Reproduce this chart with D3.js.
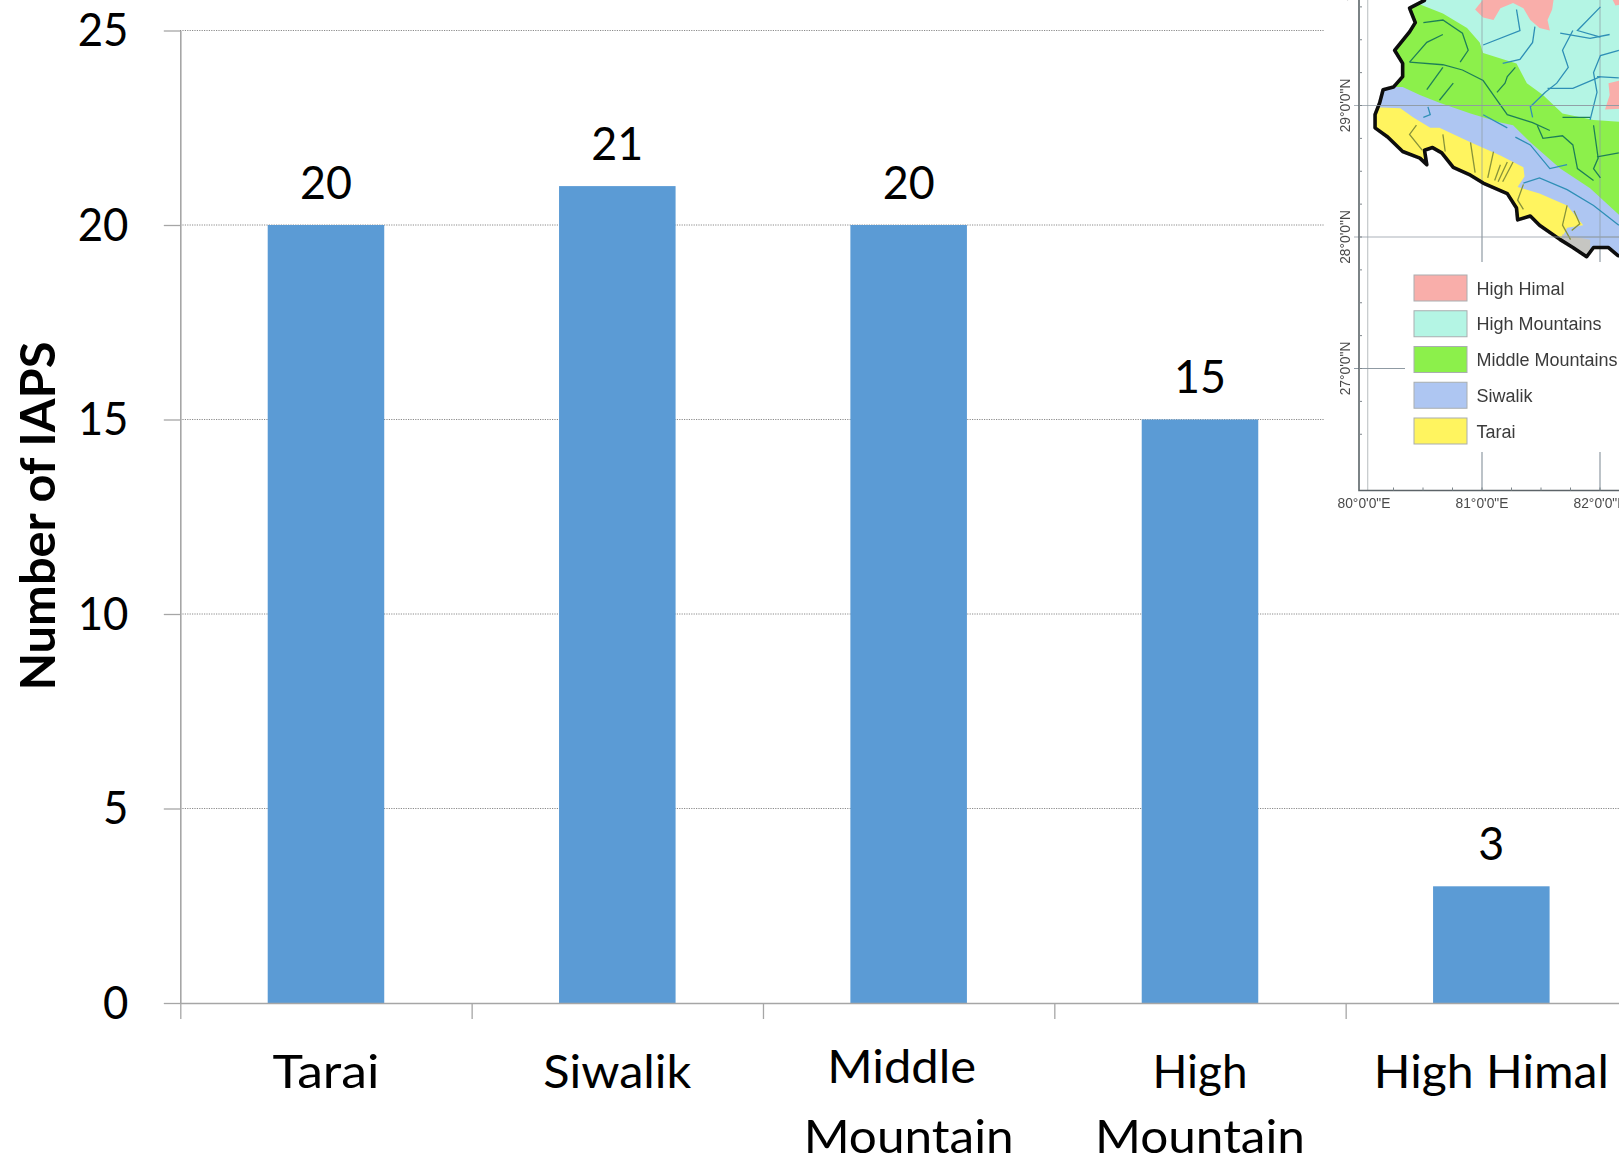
<!DOCTYPE html>
<html>
<head>
<meta charset="utf-8">
<style>
html, body { margin: 0; padding: 0; background: #fff; }
svg { display: block; }
text { fill: #000; }
</style>
<script src="https://cdn.jsdelivr.net/npm/d3@7/dist/d3.min.js"></script>
</head>
<body>
<svg id="chart" width="1619" height="1163"></svg>
<script>
// Invasive alien plant counts by physiographic zone
const categories = ["Tarai", "Siwalik", "Middle Mountain", "High Mountain", "High Himal"];
const values = [20, 21, 20, 15, 3];
const yTicks = [0, 5, 10, 15, 20, 25];

// Western Nepal inset: outlines and rivers as [longitude, latitude]
const westBorder = [[80.50,29.85],[80.50,29.80],[80.37,29.74],[80.42,29.63],[80.37,29.56],[80.24,29.42],[80.31,29.32],[80.31,29.22],[80.23,29.14],[80.14,29.12],[80.11,29.02],[80.07,28.93],[80.07,28.83],[80.18,28.76],[80.31,28.65],[80.46,28.60],[80.52,28.55],[80.50,28.66],[80.57,28.68],[80.65,28.64],[80.75,28.53],[80.90,28.47],[81.01,28.41],[81.22,28.33],[81.30,28.22],[81.31,28.13],[81.42,28.16],[81.50,28.09],[81.68,27.98],[81.79,27.92],[81.91,27.85],[81.97,27.92],[82.10,27.92],[82.18,27.86],[82.29,27.84]];
const middleEdge = [[80.20,29.85],[80.43,29.78],[80.66,29.70],[80.87,29.59],[80.98,29.48],[81.01,29.40],[81.30,29.32],[81.39,29.17],[81.53,29.08],[81.70,28.94],[81.97,28.89],[82.29,28.87]];
const siwalikEdge = [[80.00,29.14],[80.31,29.14],[80.46,29.08],[80.63,29.02],[80.90,28.94],[81.16,28.87],[81.27,28.85],[81.42,28.72],[81.68,28.52],[81.94,28.37],[82.29,28.09]];
const taraiEdge = [[80.00,28.99],[80.29,28.98],[80.40,28.91],[80.55,28.83],[80.63,28.83],[80.90,28.72],[81.16,28.62],[81.36,28.53],[81.37,28.46],[81.31,28.38],[81.50,28.33],[81.74,28.24],[81.88,28.09],[81.74,28.07],[81.70,28.00]];
const unclassified = [[81.70,28.02],[81.94,27.98],[81.94,27.70],[81.60,27.70]];
const himalPatches = [
  [[80.94,29.73],[81.05,29.85],[81.63,29.85],[81.61,29.73],[81.57,29.65],[81.59,29.57],[81.50,29.59],[81.42,29.65],[81.36,29.74],[81.27,29.78],[81.16,29.74],[81.10,29.65],[81.01,29.67]],
  [[82.10,29.17],[82.29,29.21],[82.29,28.98],[82.07,28.97],[82.11,29.08]],
  [[82.11,29.85],[82.29,29.85],[82.29,29.78],[82.16,29.76]]
];
const greenRivers = [
  [[80.37,29.33],[80.66,29.31],[80.83,29.27],[81.01,29.19],[81.13,29.04],[81.22,28.93],[81.44,28.87],[81.59,28.81]],
  [[80.49,29.63],[80.66,29.65],[80.83,29.55],[80.88,29.42],[80.81,29.33]],
  [[80.37,29.33],[80.52,29.48],[80.66,29.54]],
  [[81.29,29.29],[81.22,29.22],[81.20,29.17],[81.13,29.10]],
  [[80.52,29.12],[80.66,29.29]],
  [[80.75,29.17],[80.63,29.04]],
  [[81.48,28.85],[81.53,28.75],[81.70,28.77],[81.79,28.70],[81.83,28.52],[81.97,28.43]],
  [[81.97,28.85],[82.01,28.60],[81.97,28.52],[82.03,28.45]],
  [[82.19,28.64],[82.00,28.61]],
  [[81.70,28.91],[81.94,28.91]]
];
const blueRivers = [
  [[81.30,29.73],[81.33,29.57],[81.01,29.46]],
  [[81.46,29.60],[81.44,29.48],[81.33,29.35],[81.18,29.32]],
  [[81.79,29.57],[81.70,29.42],[81.75,29.29],[81.65,29.17],[81.55,29.10],[81.42,28.99],[81.44,28.91]],
  [[82.19,29.42],[82.03,29.38],[81.97,29.25],[82.00,29.10],[81.94,28.89]],
  [[82.03,29.75],[81.83,29.57],[82.03,29.52]],
  [[81.29,28.76],[81.42,28.70],[81.59,28.52],[81.74,28.55]],
  [[81.36,28.41],[81.50,28.45],[81.74,28.36],[81.97,28.24],[82.19,28.09]],
  [[80.53,28.99],[80.55,28.93],[80.49,28.91]],
  [[81.01,28.93],[81.22,28.83]],
  [[82.00,29.22],[82.19,29.21]],
  [[81.68,29.55],[81.94,29.51],[82.11,29.54]],
  [[81.57,29.13],[81.79,29.13],[82.03,29.22]]
];
const oliveRivers = [
  [[80.66,28.78],[80.68,28.65]],
  [[80.90,28.72],[80.94,28.49]],
  [[81.10,28.65],[81.05,28.45]],
  [[81.27,28.57],[81.18,28.42]],
  [[81.16,28.55],[81.11,28.43]],
  [[81.22,28.57],[81.14,28.42]],
  [[81.36,28.40],[81.31,28.28],[81.36,28.21]],
  [[80.43,28.85],[80.37,28.78],[80.48,28.66]],
  [[81.74,28.24],[81.70,28.09],[81.77,27.98]],
  [[81.80,28.20],[81.85,28.10],[81.78,28.05]]
];
const legendNames = ["High Himal", "High Mountains", "Middle Mountains", "Siwalik", "Tarai"];
const legendColors = ["#f9aeaa", "#b4f5e4", "#8cf04c", "#aec6f2", "#fff45e"];
const latLabels = [30, 29, 28, 27];
const lonLabels = [80, 81, 82];

const svg = d3.select("#chart");
const font = "Lato, Carlito, sans-serif";
const axisGrey = "#a6a6a6";

const y = d3.scaleLinear().domain([0, 25]).range([1003, 30.5]);
const x = d3.scaleBand().domain(categories).range([180.3, 1637]).paddingInner(0.6).paddingOuter(0.3);
const edge = d3.scaleLinear().domain([0, categories.length]).range(x.range());

// Dotted gridlines
svg.append("g").selectAll("line").data(yTicks.filter(d => d > 0)).join("line")
  .attr("x1", 180).attr("x2", 1619)
  .attr("y1", d => y(d)).attr("y2", d => y(d))
  .attr("stroke", "#8a8a8a").attr("stroke-width", 1).attr("stroke-dasharray", "1.2 1.2");

// Bars
svg.append("g").selectAll("rect").data(values).join("rect")
  .attr("x", (d, i) => x(categories[i]))
  .attr("width", x.bandwidth())
  .attr("y", d => y(d))
  .attr("height", d => y(0) - y(d))
  .attr("fill", "#5b9bd5");

// Value labels
svg.append("g").selectAll("text").data(values).join("text")
  .attr("x", (d, i) => x(categories[i]) + x.bandwidth() / 2)
  .attr("y", d => y(d) - 26.2)
  .attr("text-anchor", "middle")
  .attr("font-family", font).attr("font-size", 47)
  .attr("textLength", d => String(d).length * 26)
  .attr("lengthAdjust", "spacingAndGlyphs")
  .text(d => d);

// Axes
svg.append("g").attr("transform", "translate(180.3,0)")
  .call(d3.axisLeft(y).tickValues(yTicks).tickSize(16.5).tickSizeOuter(0).tickFormat(""));
svg.append("g").attr("transform", "translate(0,1003)")
  .call(d3.axisBottom(edge).tickValues(d3.range(categories.length + 1)).tickSize(16).tickSizeOuter(0).tickFormat(""));
svg.selectAll(".domain").attr("stroke", axisGrey).attr("stroke-width", 1.6);
svg.selectAll(".tick line").attr("stroke", axisGrey).attr("stroke-width", 1.3);

// Y tick labels
svg.append("g").selectAll("text").data(yTicks).join("text")
  .attr("x", 128.5)
  .attr("y", d => y(d) + 15.6)
  .attr("text-anchor", "end")
  .attr("font-family", font).attr("font-size", 47)
  .attr("textLength", d => String(d).length * 25.4)
  .attr("lengthAdjust", "spacingAndGlyphs")
  .text(d => d);

// Y axis title
svg.append("text")
  .attr("transform", "translate(55,516) rotate(-90)")
  .attr("text-anchor", "middle")
  .attr("font-family", font).attr("font-size", 48).attr("font-weight", 700)
  .attr("textLength", 349).attr("lengthAdjust", "spacingAndGlyphs")
  .text("Number of IAPS");

// Category labels, broken over two lines where the source wraps them
const wordWidth = { "Tarai": 107, "Siwalik": 148, "Middle": 149, "Mountain": 210, "High": 95, "High Himal": 235 };
const catLines = {
  "Tarai": [["Tarai", 0, 1088]],
  "Siwalik": [["Siwalik", 0, 1088]],
  "Middle Mountain": [["Middle", -7, 1083], ["Mountain", 0, 1152.5]],
  "High Mountain": [["High", 0, 1088], ["Mountain", 0, 1152.5]],
  "High Himal": [["High Himal", 0, 1088]]
};
categories.forEach(c => {
  catLines[c].forEach(([word, dx, base]) => {
    svg.append("text")
      .attr("x", x(c) + x.bandwidth() / 2 + dx)
      .attr("y", base)
      .attr("text-anchor", "middle")
      .attr("font-family", font).attr("font-size", 47)
      .attr("textLength", wordWidth[word]).attr("lengthAdjust", "spacingAndGlyphs")
      .text(word);
  });
});

// Inset map of the western part of the country
const lon = d3.scaleLinear().domain([80, 81]).range([1367, 1482]);
const lat = d3.scaleLinear().domain([29, 28]).range([105.5, 237]);
const gratLon = d3.scaleLinear().domain([80, 82]).range([1364, 1600]);
const project = d3.line().x(d => lon(d[0])).y(d => lat(d[1]));
const southEast = [[82.29, 27.5], [80, 27.5]];

svg.append("rect").attr("x", 1324).attr("y", 0).attr("width", 295).attr("height", 525).attr("fill", "#fff");

const defs = svg.append("defs");
defs.append("filter").attr("id", "soft")
  .attr("x", 1300).attr("y", -10).attr("width", 330).attr("height", 540).attr("filterUnits", "userSpaceOnUse")
  .append("feGaussianBlur").attr("stdDeviation", 0.7);
defs.append("clipPath").attr("id", "country").append("path")
  .attr("d", project(westBorder.concat([[82.29, 29.85]])) + "Z");

const map = svg.append("g").attr("filter", "url(#soft)");

// Graticule
const gratColor = "#8f9aa3";
const grat = map.append("g").attr("stroke", gratColor).attr("stroke-width", 1.2).attr("fill", "none");
grat.append("line").attr("x1", 1367.7).attr("x2", 1367.7).attr("y1", 0).attr("y2", 490).attr("stroke", "#c4c8ca");
[81, 82].forEach(v => {
  grat.append("line").attr("x1", gratLon(v)).attr("x2", gratLon(v)).attr("y1", 0).attr("y2", 262);
  grat.append("line").attr("x1", gratLon(v)).attr("x2", gratLon(v)).attr("y1", 452).attr("y2", 490);
});

const zones = map.append("g").attr("clip-path", "url(#country)");
zones.append("path").attr("d", project(westBorder.concat([[82.29, 29.85]])) + "Z").attr("fill", legendColors[1]);
himalPatches.forEach(p => zones.append("path").attr("d", project(p) + "Z").attr("fill", legendColors[0]));
zones.append("path").attr("d", project(middleEdge.concat(southEast)) + "Z").attr("fill", legendColors[2]);
zones.append("path").attr("d", project(siwalikEdge.concat(southEast)) + "Z").attr("fill", legendColors[3]);
zones.append("path").attr("d", project(taraiEdge.concat(southEast)) + "Z").attr("fill", legendColors[4]);
zones.append("path").attr("d", project(unclassified) + "Z").attr("fill", "#c6c6c2");

// Graticule seen through the coloured zones
const gratOver = zones.append("g").attr("stroke", gratColor).attr("stroke-width", 1).attr("opacity", 0.7);
[81, 82].forEach(v => gratOver.append("line").attr("x1", gratLon(v)).attr("x2", gratLon(v)).attr("y1", 0).attr("y2", 262));
[29, 28].forEach(v => gratOver.append("line").attr("x1", 1362).attr("x2", 1619).attr("y1", lat(v)).attr("y2", lat(v)));

const riverGroups = [[greenRivers, "#1f8057"], [blueRivers, "#2f8fb6"], [oliveRivers, "#87923a"]];
riverGroups.forEach(([rows, color]) => {
  zones.append("g").selectAll("path").data(rows).join("path")
    .attr("d", project).attr("fill", "none").attr("stroke", color).attr("stroke-width", 1.3);
});

// Country outline
map.append("path").attr("d", project(westBorder)).attr("fill", "none")
  .attr("stroke", "#0a0a0a").attr("stroke-width", 3.6).attr("stroke-linejoin", "round");

// Graticule outside the country, frame and coordinates
[29, 28].forEach(v => map.append("line").attr("x1", 1354).attr("x2", 1619).attr("y1", lat(v)).attr("y2", lat(v))
  .attr("stroke", gratColor).attr("stroke-width", 1.1).attr("opacity", 0.75));
map.append("line").attr("x1", 1354).attr("x2", 1405).attr("y1", lat(27)).attr("y2", lat(27))
  .attr("stroke", gratColor).attr("stroke-width", 1);
map.append("path").attr("d", "M1359,0V490.5H1619").attr("fill", "none").attr("stroke", "#5c6468").attr("stroke-width", 1.6);

// Quarter-degree ticks along the frame
map.append("g").selectAll("line").data(d3.range(80.25, 82.5, 0.25)).join("line")
  .attr("x1", d => gratLon(d)).attr("x2", d => gratLon(d))
  .attr("y1", 487.5).attr("y2", 490.5).attr("stroke", "#7d858a").attr("stroke-width", 1);
map.append("g").selectAll("line").data(d3.range(26.5, 30, 0.25)).join("line")
  .attr("x1", 1359).attr("x2", 1362)
  .attr("y1", d => lat(d)).attr("y2", d => lat(d)).attr("stroke", "#7d858a").attr("stroke-width", 1);

const mapFont = "Liberation Sans, Arial, sans-serif";
map.append("g").selectAll("text").data(latLabels).join("text")
  .attr("transform", d => `translate(1349.5,${lat(d)}) rotate(-90)`)
  .attr("text-anchor", "middle")
  .attr("font-family", mapFont).attr("font-size", 13.8)
  .style("fill", "#4a4a4a")
  .text(d => `${d}°0'0"N`);
map.append("g").selectAll("text").data(lonLabels).join("text")
  .attr("x", d => gratLon(d))
  .attr("y", 508)
  .attr("text-anchor", "middle")
  .attr("font-family", mapFont).attr("font-size", 13.8)
  .style("fill", "#4a4a4a")
  .text(d => `${d}°0'0"E`);

// Map legend
const legend = map.append("g");
const rowY = d3.scalePoint().domain(legendNames).range([275, 418]);
legend.selectAll("rect").data(legendNames).join("rect")
  .attr("x", 1414).attr("y", d => rowY(d))
  .attr("width", 53).attr("height", 26)
  .attr("fill", (d, i) => legendColors[i])
  .attr("stroke", "#a9aeb0").attr("stroke-width", 1);
legend.selectAll("text").data(legendNames).join("text")
  .attr("x", 1476.5).attr("y", d => rowY(d) + 19.5)
  .attr("font-family", mapFont).attr("font-size", 18)
  .style("fill", "#3a3a3a")
  .text(d => d);
</script>
</body>
</html>
